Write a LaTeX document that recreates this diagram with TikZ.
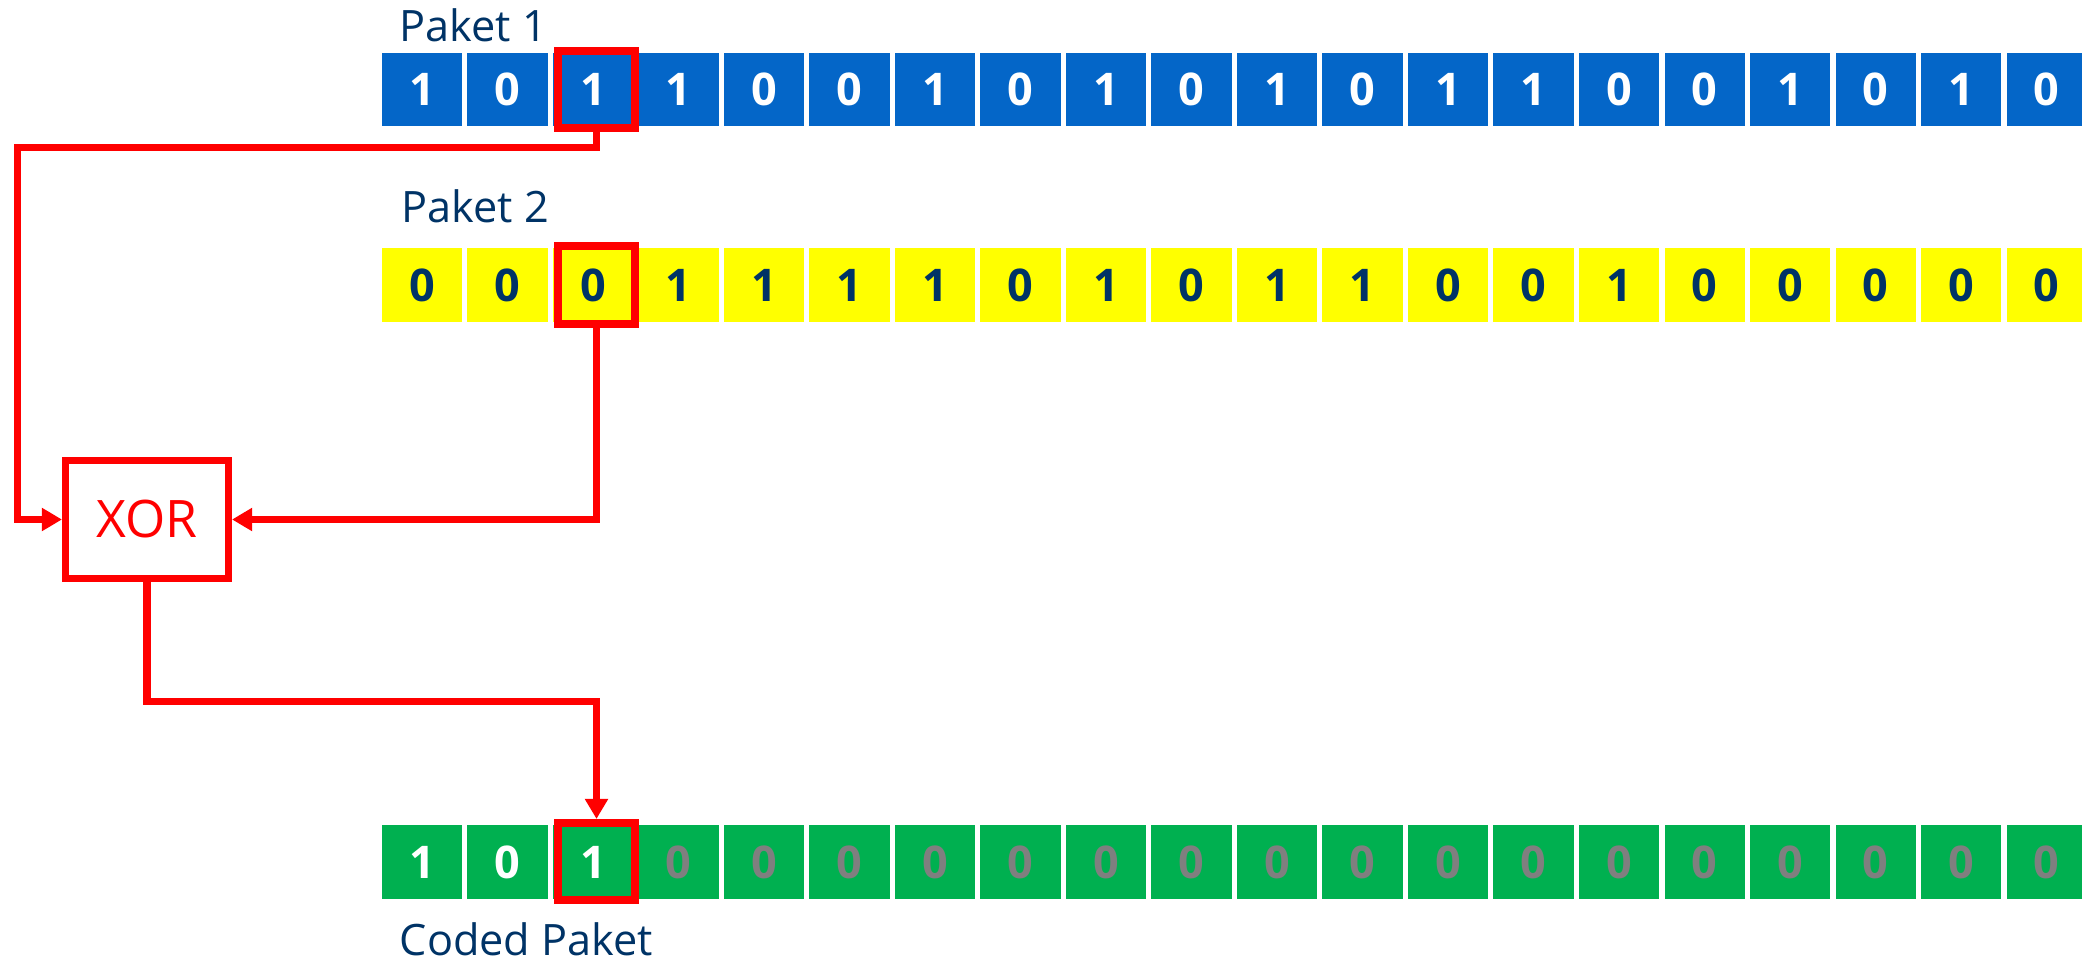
\documentclass[tikz,border=0pt]{standalone}
\usepackage{fontspec}
\setmainfont{Open Sans}
\usetikzlibrary{arrows.meta}

\definecolor{pblue}{RGB}{4,102,200}
\definecolor{pyellow}{RGB}{255,255,0}
\definecolor{pgreen}{RGB}{0,176,80}
\definecolor{navy}{RGB}{0,51,102}
\definecolor{zerogray}{RGB}{127,127,127}

\tikzset{
  bitcell/.style={minimum width=0.80cm, minimum height=0.73cm, inner sep=0pt,
    font=\fontsize{12.8}{14}\selectfont\bfseries},
  hilite/.style={draw=red, line width=0.08cm, minimum width=0.77cm, minimum height=0.77cm, inner sep=0pt},
  gate/.style={draw=red, line width=0.07cm, minimum width=1.63cm, minimum height=1.18cm,
    text=red, font=\fontsize{14.7}{17}\selectfont},
  wire/.style={red, line width=0.07cm, -{Triangle[length=0.2cm, width=0.22cm]}},
  pktlabel/.style={anchor=base west, inner sep=0pt, text=navy, font=\fontsize{12.3}{14}\selectfont}
}

\begin{document}
\begin{tikzpicture}[x=0.01cm, y=-0.01cm]
      \useasboundingbox (0,0) rectangle (2082,961);
      % Paket 1 (blue)
      \node[pktlabel] (lab1) at (399,42) {Paket 1};
      \foreach \b [count=\i] in {1,0,1,1,0,0,1,0,1,0,1,0,1,1,0,0,1,0,1,0}
        \node[bitcell, fill=pblue, text=white] (p1-\i) at ({422+(\i-1)*85.5},89.5) {\b};
      % Paket 2 (yellow)
      \node[pktlabel] (lab2) at (401,223) {Paket 2};
      \foreach \b [count=\i] in {0,0,0,1,1,1,1,0,1,0,1,1,0,0,1,0,0,0,0,0}
        \node[bitcell, fill=pyellow, text=navy] (p2-\i) at ({422+(\i-1)*85.5},285) {\b};
      % Coded Paket (green)
      \foreach \b/\c [count=\i] in {1/white,0/white,1/white,0/zerogray,0/zerogray,0/zerogray,
          0/zerogray,0/zerogray,0/zerogray,0/zerogray,0/zerogray,0/zerogray,0/zerogray,
          0/zerogray,0/zerogray,0/zerogray,0/zerogray,0/zerogray,0/zerogray,0/zerogray}
        \node[bitcell, fill=pgreen, text=\c] (pc-\i) at ({422+(\i-1)*85.5},862) {\b};
      \node[pktlabel] (lab3) at (399,955) {Coded Paket};
      % marked bits
      \node[hilite] (hl1) at (596.5,89.5) {};
      \node[hilite] (hl2) at (596.5,285) {};
      \node[hilite] (hl3) at (596.5,861.5) {};
      % XOR gate
      \node[gate] (xor) at (147,519.5) {XOR};
      % wires
      \coordinate (lft) at (17.5,148);
      \coordinate (low) at (371,701);
      \draw[wire] (hl1.south) |- (lft) |- (xor.west);
      \draw[wire] (hl2.south) |- (xor.east);
      \draw[wire] (xor.south) |- (low) -| (hl3.north);
\end{tikzpicture}
\end{document}
